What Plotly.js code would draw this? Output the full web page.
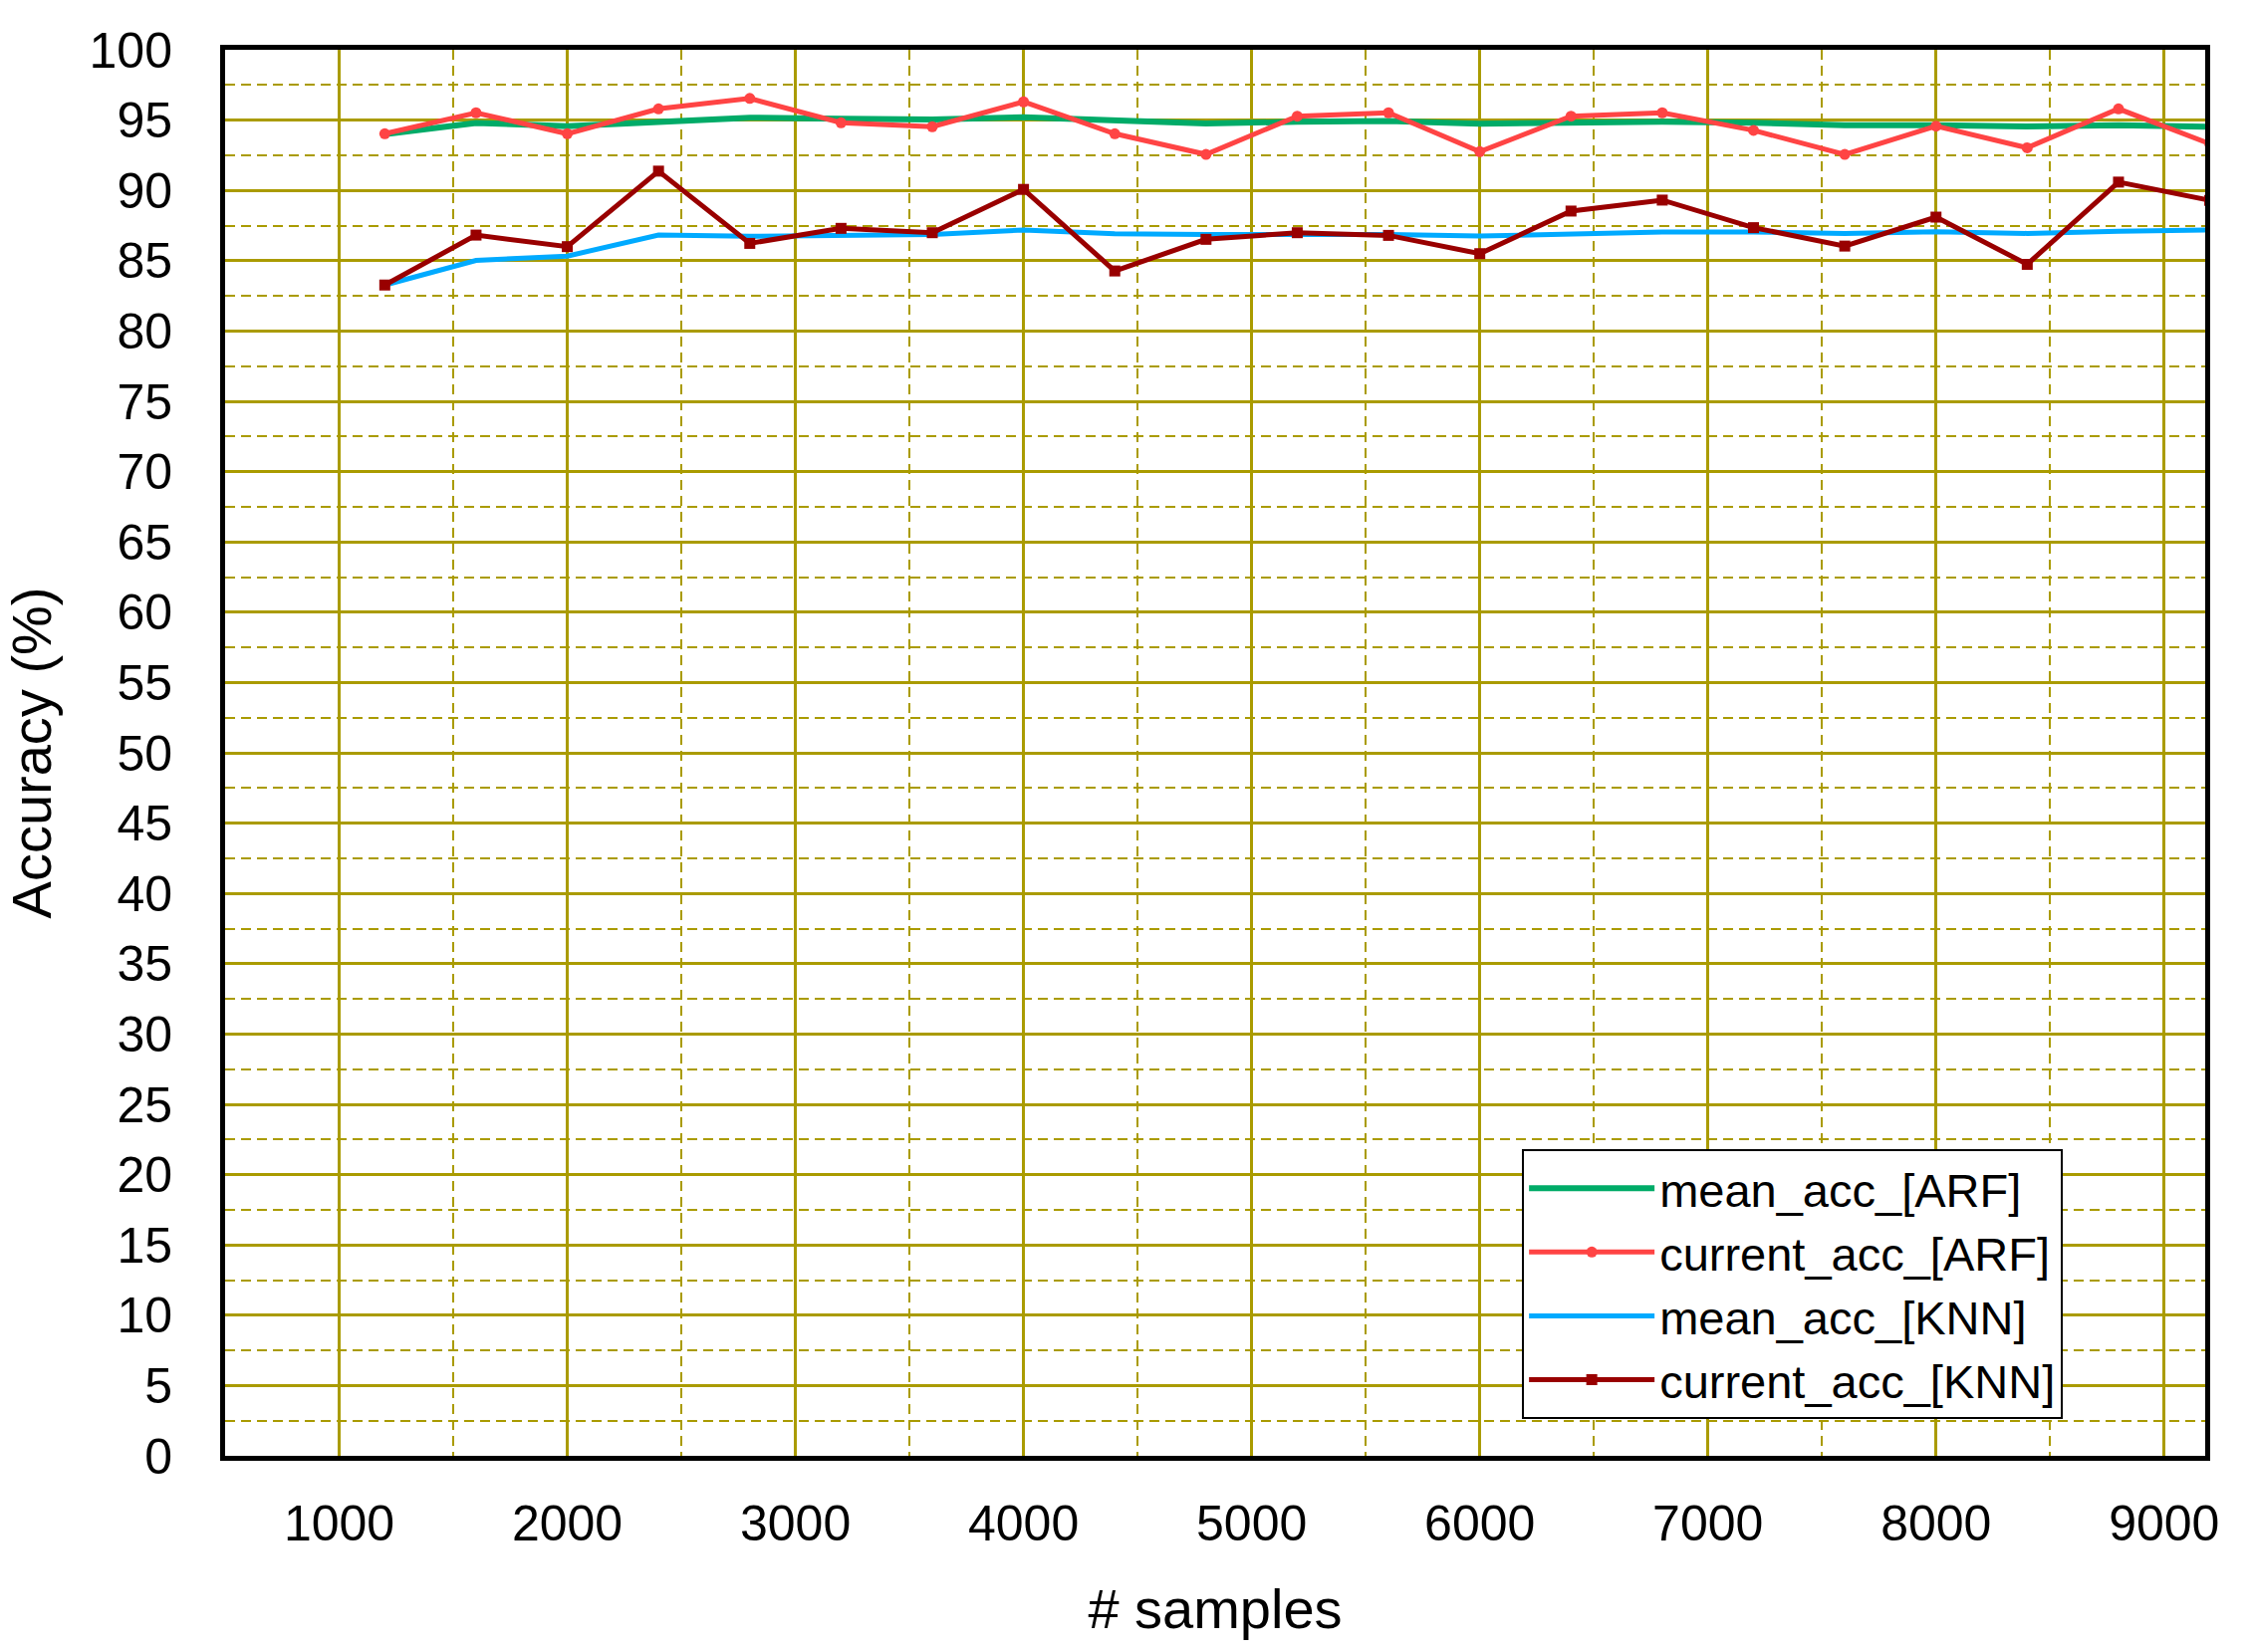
<!DOCTYPE html>
<html>
<head>
<meta charset="utf-8">
<script src="https://cdn.plot.ly/plotly-3.0.1.min.js"></script>
<style>
    html, body { margin: 0; padding: 0; background: #ffffff; }
    #plotContainer { width: 2262px; height: 1659px; }
</style>
</head>
<body>
<div id="plotContainer"></div>
<script>

// Sample counts at which the accuracy was measured
let samples = [ 1200, 1600, 2000, 2400, 2800, 3200, 3600, 4000, 4400, 4800, 5200,
    5600, 6000, 6400, 6800, 7200, 7600, 8000, 8400, 8800, 9200 ];

let meanAccARF = [ 94.0, 94.8, 94.57, 94.9, 95.17, 95.1, 95.05, 95.2, 95.0, 94.76, 94.88,
    94.93, 94.74, 94.81, 94.88, 94.81, 94.64, 94.64, 94.55, 94.64, 94.53 ];

let currentAccARF = [ 94.03, 95.52, 94.03, 95.8, 96.54, 94.81, 94.53, 96.3, 94.03, 92.56, 95.28,
    95.52, 92.75, 95.28, 95.52, 94.27, 92.56, 94.57, 93.03, 95.8, 93.32 ];

let meanAccKNN = [ 83.27, 85.02, 85.33, 86.82, 86.73, 86.82, 86.87, 87.18, 86.92, 86.87, 86.87,
    86.87, 86.75, 86.92, 87.04, 87.04, 86.94, 87.06, 86.94, 87.1, 87.18 ];

let currentAccKNN = [ 83.27, 86.82, 86.0, 91.37, 86.23, 87.3, 86.99, 90.07, 84.27, 86.52, 86.99,
    86.8, 85.5, 88.53, 89.31, 87.35, 86.04, 88.1, 84.74, 90.59, 89.29 ];

let seriesNames = [ 'mean_acc_[ARF]', 'current_acc_[ARF]', 'mean_acc_[KNN]', 'current_acc_[KNN]' ];

let yTickValues = [ 0, 5, 10, 15, 20, 25, 30, 35, 40, 45, 50, 55, 60, 65, 70, 75, 80, 85, 90, 95, 100 ];
let xTickValues = [ 1000, 2000, 3000, 4000, 5000, 6000, 7000, 8000, 9000 ];

let gridColor = '#aa9b00';
let fontFamily = 'Liberation Sans, Arial, sans-serif';

/**
 * Builds one line trace
 *
 * @param {Array} values - accuracy values for each sample count
 * @param {string} name - legend name
 * @param {string} color - line colour
 * @param {number} width - line width
 * @param {string} symbol - marker symbol or null for a plain line
 */
function makeTrace( values, name, color, width, symbol ) {

    let trace = {
        x: samples,
        y: values,
        name: name,
        type: 'scatter',
        mode: symbol ? 'lines+markers' : 'lines',
        line: { color: color, width: width }
    };

    if ( symbol ) {
        trace.marker = { symbol: symbol, size: 11, color: color };
    }

    return trace;
}

function makeLayout( ) {

    let tickFont = { family: fontFamily, size: 50, color: '#000000' };
    let titleFont = { family: fontFamily, size: 56, color: '#000000' };

    return {
        width: 2262,
        height: 1659,
        margin: { l: 226, r: 48, t: 50, b: 197 },
        paper_bgcolor: '#ffffff',
        plot_bgcolor: '#ffffff',
        showlegend: true,
        xaxis: {
            range: [ 500, 9180 ],
            tickvals: xTickValues,
            ticks: '',
            ticklabelstandoff: 20,
            tickfont: tickFont,
            showgrid: true,
            gridcolor: gridColor,
            gridwidth: 3,
            minor: { dtick: 500, tick0: 0, showgrid: true, gridcolor: gridColor, gridwidth: 2, griddash: '10px,6px' },
            zeroline: false,
            showline: true,
            linecolor: '#000000',
            linewidth: 5,
            mirror: true,
            title: { text: '# samples', font: titleFont, standoff: 40 }
        },
        yaxis: {
            range: [ 0, 100 ],
            tickvals: yTickValues,
            ticks: '',
            ticklabelstandoff: 38,
            tickfont: tickFont,
            showgrid: true,
            gridcolor: gridColor,
            gridwidth: 3,
            minor: { dtick: 2.5, tick0: 0, showgrid: true, gridcolor: gridColor, gridwidth: 2, griddash: '10px,6px' },
            zeroline: false,
            showline: true,
            linecolor: '#000000',
            linewidth: 5,
            mirror: true,
            title: { text: 'Accuracy (%)', font: titleFont, standoff: 22 }
        },
        legend: {
            x: 0.655,
            y: 0.218,
            xanchor: 'left',
            yanchor: 'top',
            bgcolor: '#ffffff',
            bordercolor: '#000000',
            borderwidth: 2,
            itemwidth: 126,
            font: { family: fontFamily, size: 47, color: '#000000' }
        }
    };
}

let data = [
    makeTrace( meanAccARF, seriesNames[ 0 ], '#00ab68', 6, null ),
    makeTrace( currentAccARF, seriesNames[ 1 ], '#ff4444', 5, 'circle' ),
    makeTrace( meanAccKNN, seriesNames[ 2 ], '#00aaff', 5, null ),
    makeTrace( currentAccKNN, seriesNames[ 3 ], '#990000', 5, 'square' )
];

Plotly.newPlot( 'plotContainer', data, makeLayout( ), { staticPlot: true } );

</script>
</body>
</html>
